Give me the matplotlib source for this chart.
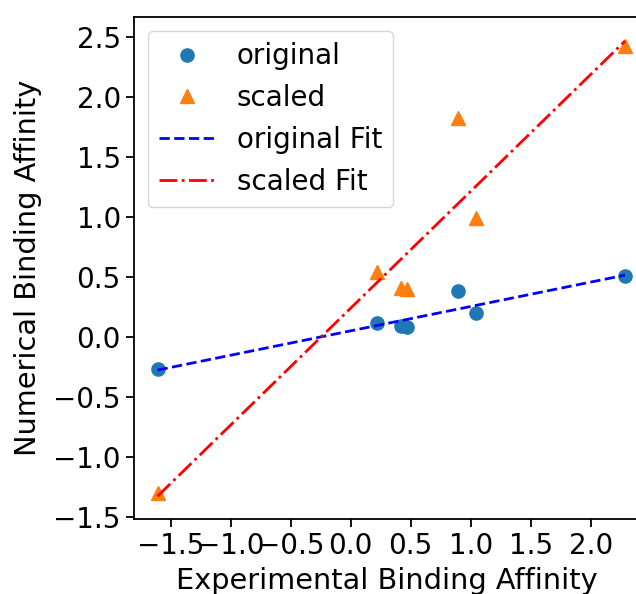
import numpy as np
import matplotlib
matplotlib.use('Agg')
import matplotlib.pyplot as plt

# experimental vs numerical binding affinity
exp_x = [-1.61, 0.215, 0.415, 0.465, 0.897, 1.04, 2.286]
orig_y = [-0.272, 0.112, 0.089, 0.083, 0.378, 0.20, 0.506]
scaled_y = [-1.30, 0.542, 0.41, 0.40, 1.82, 0.987, 2.42]

plt.rcParams['font.size'] = 20

x = np.array(exp_x)
order = np.argsort(x)
xs = x[order]

# linear fits
p_orig = np.polyfit(x, orig_y, 1)
p_scaled = np.polyfit(x, scaled_y, 1)

fig = plt.figure(figsize=(6.36, 5.94), dpi=100)
ax = fig.add_axes([134 / 636, 75.5 / 594, 506 / 636, 501.2 / 594])

ax.plot(x, orig_y, 'o', color='C0', ms=9.5, label='original')
ax.plot(x, scaled_y, '^', color='C1', ms=9.5, label='scaled')
ax.plot(xs, np.polyval(p_orig, xs), 'b--', lw=2, label='original Fit')
ax.plot(xs, np.polyval(p_scaled, xs), 'r-.', lw=2, label='scaled Fit')

ax.set_xlim(-1.806, -1.806 + 506 / 120)
ax.set_ylim(-1.515, 2.662)
ax.set_xticks(np.arange(-1.5, 2.01, 0.5))
ax.set_yticks(np.arange(-1.5, 2.51, 0.5))
ax.tick_params(length=6, width=1.3)
for s in ax.spines.values():
    s.set_linewidth(1.3)

ax.set_xlabel('Experimental Binding Affinity', fontsize=20.7, labelpad=5)
ax.set_ylabel('Numerical Binding Affinity', fontsize=20.7, labelpad=8)
ax.legend(loc='upper left')

fig.savefig('out.png', dpi=100)
